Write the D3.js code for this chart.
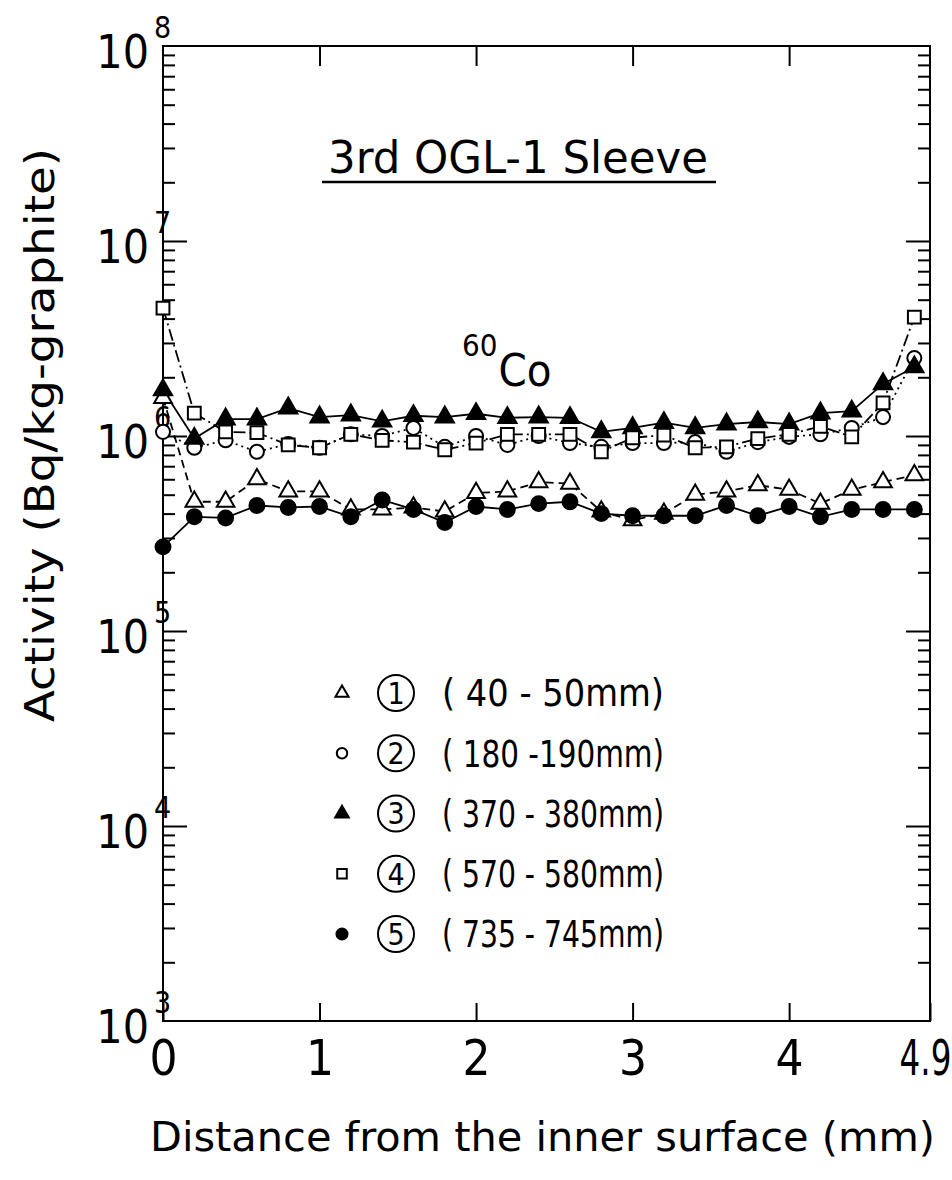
<!DOCTYPE html>
<html>
<head>
<meta charset="utf-8">
<script src="https://cdn.jsdelivr.net/npm/d3@7"></script>
<style>
html,body{margin:0;padding:0;background:#fff;}
svg text{font-family:"DejaVu Sans Condensed","DejaVu Sans",sans-serif;font-stretch:condensed;fill:#000;}
</style>
</head>
<body>
<svg id="chart" width="952" height="1180"></svg>
<script>
// ---- data ----
const xDepth = [0,0.2,0.4,0.6,0.8,1.0,1.2,1.4,1.6,1.8,2.0,2.2,2.4,2.6,2.8,3.0,3.2,3.4,3.6,3.8,4.0,4.2,4.4,4.6,4.8];
const s1_40_50   = [1.57e6,0.46e6,0.46e6,0.60e6,0.52e6,0.52e6,0.42e6,0.42e6,0.43e6,0.41e6,0.51e6,0.52e6,0.58e6,0.57e6,0.41e6,0.37e6,0.40e6,0.50e6,0.52e6,0.56e6,0.53e6,0.45e6,0.53e6,0.58e6,0.63e6];
const s2_180_190 = [1.05e6,0.87e6,0.95e6,0.83e6,0.91e6,0.87e6,1.02e6,1.00e6,1.10e6,0.88e6,1.00e6,0.90e6,1.00e6,0.92e6,0.88e6,0.92e6,0.92e6,0.93e6,0.83e6,0.93e6,0.99e6,1.02e6,1.10e6,1.25e6,2.51e6];
const s3_370_380 = [1.72e6,0.97e6,1.22e6,1.22e6,1.39e6,1.25e6,1.28e6,1.19e6,1.27e6,1.25e6,1.30e6,1.24e6,1.25e6,1.24e6,1.05e6,1.10e6,1.17e6,1.10e6,1.15e6,1.18e6,1.15e6,1.31e6,1.34e6,1.85e6,2.26e6];
const s4_570_580 = [4.53e6,1.31e6,1.05e6,1.04e6,0.90e6,0.87e6,1.02e6,0.95e6,0.93e6,0.85e6,0.92e6,1.02e6,1.02e6,1.02e6,0.83e6,0.98e6,1.01e6,0.87e6,0.88e6,0.97e6,1.02e6,1.12e6,0.99e6,1.48e6,4.07e6];
const s5_735_745 = [0.27e6,0.385e6,0.38e6,0.44e6,0.43e6,0.435e6,0.385e6,0.47e6,0.42e6,0.36e6,0.435e6,0.42e6,0.45e6,0.46e6,0.40e6,0.39e6,0.39e6,0.39e6,0.44e6,0.39e6,0.435e6,0.385e6,0.42e6,0.42e6,0.42e6];

const seriesNames = ["1","2","3","4","5"];
const legendRanges = ["( 40 - 50mm)","( 180 -190mm)","( 370 - 380mm)","( 570 - 580mm)","( 735 - 745mm)"];
const xTickValues = [0,1,2,3,4,4.9];
const xTickLabels = ["0","1","2","3","4","4.9"];
const yMajorExponents = [3,4,5,6,7,8];
const titleText = "3rd OGL-1 Sleeve";
const isotopeMass = "60";
const isotopeSymbol = "Co";
const xTitle = "Distance from the inner surface (mm)";
const yTitle = "Activity (Bq/kg-graphite)";

// ---- layout ----
const L = 163, R = 930, T = 46, B = 1021;
const svg = d3.select("#chart");
const x = d3.scaleLinear().domain([0,4.9]).range([L,R]);
const y = d3.scaleLog().domain([1e3,1e8]).range([B,T]);

const styles = [
  {values:s1_40_50,   sym:d3.symbolTriangle, size:135, fill:"#fff", dash:"8,5"},
  {values:s2_180_190, sym:d3.symbolCircle,   size:155, fill:"#fff", dash:"2,4"},
  {values:s3_370_380, sym:d3.symbolTriangle, size:145, fill:"#000", dash:null},
  {values:s4_570_580, sym:d3.symbolSquare,   size:165, fill:"#fff", dash:"12,4,2,4"},
  {values:s5_735_745, sym:d3.symbolCircle,   size:175, fill:"#000", dash:null}
];

// frame
svg.append("rect").attr("x",L).attr("y",T).attr("width",R-L).attr("height",B-T)
  .attr("fill","none").attr("stroke","#000").attr("stroke-width",2);

// minor/major y ticks
const yMinor = [];
for (let e=3;e<8;e++) for (let m=2;m<=9;m++) yMinor.push(m*Math.pow(10,e));
const yMajor = yMajorExponents.map(e=>Math.pow(10,e));

function yAxisSide(axisFn, xpos){
  const gMin = svg.append("g").attr("transform",`translate(${xpos},0)`)
    .call(axisFn(y).tickValues(yMinor).tickSize(-12).tickFormat(""));
  gMin.select(".domain").remove();
  gMin.selectAll("line").attr("stroke-width",2);
  const gMaj = svg.append("g").attr("transform",`translate(${xpos},0)`)
    .call(axisFn(y).tickValues(yMajor.slice(1,-1)).tickSize(-24).tickFormat(""));
  gMaj.select(".domain").remove();
  gMaj.selectAll("line").attr("stroke-width",2);
}
yAxisSide(d3.axisLeft, L);
yAxisSide(d3.axisRight, R);

// y labels: "10" + superscript exponent
const yLab = svg.append("g").attr("transform",`translate(${L},0)`)
  .call(d3.axisLeft(y).tickValues(yMajor).tickSize(0).tickFormat(""));
yLab.select(".domain").remove();
yLab.selectAll(".tick").each(function(d){
  const e = Math.round(Math.log10(d));
  const g = d3.select(this);
  g.select("text").remove();
  g.append("text").attr("x",-14).attr("y",5).attr("dy","0.36em")
    .attr("text-anchor","end").attr("font-size",46).text("10");
  g.append("text").attr("x",-9).attr("y",-9)
    .attr("text-anchor","start").attr("font-size",30).text(e);
});

// x ticks
const xTop = svg.append("g").attr("transform",`translate(0,${T})`)
  .call(d3.axisTop(x).tickValues([1,2,3,4]).tickSize(-20).tickFormat(""));
xTop.select(".domain").remove();
xTop.selectAll("line").attr("stroke-width",2);
const xBot = svg.append("g").attr("transform",`translate(0,${B})`)
  .call(d3.axisBottom(x).tickValues(xTickValues).tickSize(-18).tickPadding(14)
    .tickFormat((d,i)=>xTickLabels[i]));
xBot.select(".domain").remove();
xBot.selectAll("line").attr("stroke-width",2);
xBot.selectAll("text").attr("font-size",49).attr("dy","0.95em").attr("y",7);
xBot.selectAll("text").filter(d=>d===4.9)
  .attr("transform","translate(-5,0) scale(0.74,1)");

// series lines
const line = d3.line().x((d,i)=>x(xDepth[i])).y(d=>y(d));
styles.forEach(s=>{
  svg.append("path").datum(s.values).attr("d",line)
    .attr("fill","none").attr("stroke","#000").attr("stroke-width",1.8)
    .attr("stroke-dasharray",s.dash);
});
styles.forEach(s=>{
  svg.append("g").selectAll("path").data(s.values).join("path")
    .attr("transform",(d,i)=>`translate(${x(xDepth[i])},${y(d)})`)
    .attr("d",d3.symbol().type(s.sym).size(s.size))
    .attr("fill",s.fill).attr("stroke","#000").attr("stroke-width",2);
});

// title
svg.append("text").attr("x",328).attr("y",173)
  .attr("font-size",44).attr("textLength",380).attr("lengthAdjust","spacingAndGlyphs")
  .text(titleText);
svg.append("line").attr("x1",322).attr("x2",716).attr("y1",182).attr("y2",182)
  .attr("stroke","#000").attr("stroke-width",2.5);

// isotope label
const iso = svg.append("text").attr("x",462).attr("y",386).attr("font-size",45);
iso.append("tspan").text(isotopeMass).attr("font-size",31).attr("dy",-30);
iso.append("tspan").text(isotopeSymbol).attr("dy",30).attr("dx",1);

// legend
const legY = d3.scalePoint().domain(seriesNames).range([693,934]);
const leg = svg.append("g");
seriesNames.forEach((n,i)=>{
  const yy = legY(n);
  const st = styles[i];
  leg.append("path").attr("transform",`translate(342,${yy})`)
    .attr("d",d3.symbol().type(st.sym).size(st.size*0.55))
    .attr("fill",st.fill).attr("stroke","#000").attr("stroke-width",2);
  leg.append("circle").attr("cx",396).attr("cy",yy).attr("r",18)
    .attr("fill","none").attr("stroke","#000").attr("stroke-width",2);
  leg.append("text").attr("x",396).attr("y",yy).attr("dy","0.36em")
    .attr("text-anchor","middle").attr("font-size",30).text(n);
  leg.append("text").attr("x",442).attr("y",yy).attr("dy","0.36em")
    .attr("font-size",37).attr("textLength",222).attr("lengthAdjust","spacingAndGlyphs")
    .text(legendRanges[i]);
});

// axis titles
svg.append("text").attr("x",150).attr("y",1151)
  .attr("font-size",40).attr("textLength",785).attr("lengthAdjust","spacingAndGlyphs")
  .text(xTitle);
svg.append("text").attr("transform",`translate(54,722) rotate(-90)`)
  .attr("font-size",40).attr("textLength",574).attr("lengthAdjust","spacingAndGlyphs")
  .text(yTitle);
</script>
</body>
</html>
